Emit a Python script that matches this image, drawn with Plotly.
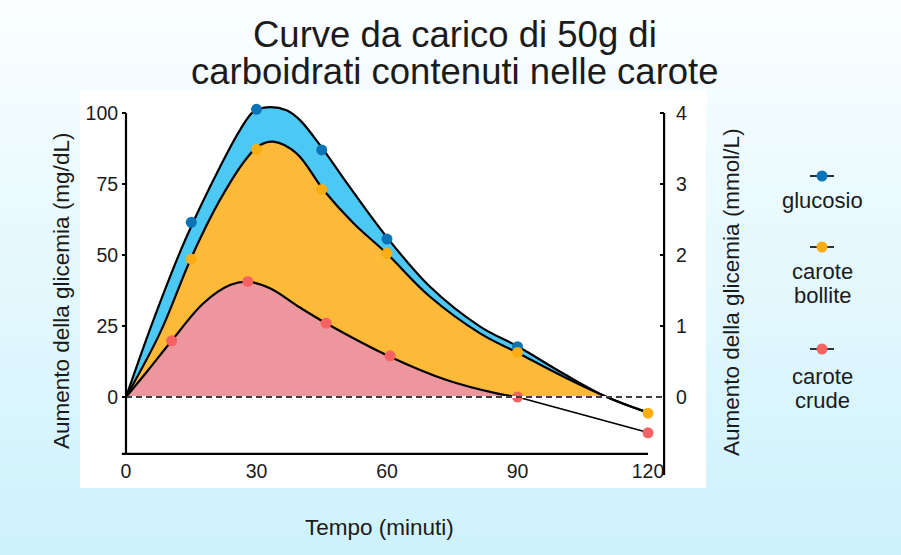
import plotly.graph_objects as go

W, H = 901, 555

# ---------------- data ----------------
title_lines = ["Curve da carico di 50g di", "carboidrati contenuti nelle carote"]
x_title = "Tempo (minuti)"
y_title_left = "Aumento della glicemia (mg/dL)"
y_title_right = "Aumento della glicemia (mmol/L)"

x_tick_vals = [0, 30, 60, 90, 120]
mg_tick_vals = [0, 25, 50, 75, 100]
mmol_tick_vals = [0, 1, 2, 3, 4]

# measured points
glu_t = [15, 30, 45, 60, 90]
glu_v = [61.5, 101.3, 87, 55.6, 17.7]
boil_t = [15, 30, 45, 60, 90, 120]
boil_v = [48.6, 87.2, 73.1, 50.6, 15.7, -5.7]
raw_t = [10.5, 28, 46, 60.7, 90, 120]
raw_v = [19.8, 40.7, 26, 14.5, 0, -12.6]

# fitted curves
glu_curve_t = [0, 6.3, 13.6, 21.6, 26.2, 29.3, 32.3, 36.9, 40, 45.4, 50.7, 59.9, 69.9, 81.4, 90.2, 100.5, 110.5, 120]
glu_curve_v = [0, 27.1, 55.3, 81, 94, 100.5, 102, 101, 97.5, 87, 75.5, 56.4, 38.8, 24.8, 17.7, 8.3, 0, -5.5]
boil_curve_t = [0, 7.8, 15.1, 21.6, 27.7, 30.8, 33.9, 39.2, 45.4, 52.3, 59.9, 69.9, 81.4, 90.2, 100.5, 110.5, 120]
boil_curve_v = [0, 22.5, 49.4, 69.4, 84, 88.7, 89.9, 85.8, 72.9, 61.2, 50.6, 35.3, 22.4, 15.4, 7.2, 0, -5.5]
raw_curve_t = [0, 4.8, 10.5, 17.8, 23.9, 28.1, 33.1, 40, 46.1, 60.7, 73.7, 85.2, 90, 120]
raw_curve_v = [0, 8.9, 19.8, 33, 39.4, 40.6, 38.3, 31.5, 25.9, 14.2, 6, 1.3, 0, -12.5]

legend_names = [["glucosio"], ["carote", "bollite"], ["carote", "crude"]]

# ---------------- styles ----------------
FONT = "Liberation Sans, Arial, Helvetica, sans-serif"
TXT = "#1b1b1b"
blue_fill, orange_fill, pink_fill = "#4cc8f4", "#fdb938", "#ee969d"
blue_mk, orange_mk, red_mk = "#0b74b7", "#fbad12", "#f66262"

X_RANGE = [-1, 123.7]
Y_RANGE = [-27.5, 105]
MMOL_PER_MG = 1 / 25.0
x_dom = [121.65 / W, 664.1 / W]
y_dom = [1 - 475.1 / H, 1 - 98.8 / H]

fig = go.Figure()


def positive_part(ts, vs):
    out_t, out_v = [], []
    for t, v in zip(ts, vs):
        if v >= 0:
            out_t.append(t)
            out_v.append(v)
        else:
            break
    return out_t, out_v


def upto(ts, vs, tmax):
    return [t for t in ts if t <= tmax], [v for t, v in zip(ts, vs) if t <= tmax]


# fills
for ts, vs, col in [(glu_curve_t, glu_curve_v, blue_fill),
                    (boil_curve_t, boil_curve_v, orange_fill),
                    (raw_curve_t, raw_curve_v, pink_fill)]:
    pt, pv = positive_part(ts, vs)
    fig.add_trace(go.Scatter(x=pt, y=pv, mode="lines", line=dict(width=0, shape="spline", color=col),
                             fill="tozeroy", fillcolor=col, hoverinfo="skip", showlegend=False))

# curve lines
for ts, vs in [(glu_curve_t, glu_curve_v), (boil_curve_t, boil_curve_v)]:
    fig.add_trace(go.Scatter(x=ts, y=vs, mode="lines", line=dict(color="black", width=2.2, shape="spline"),
                             hoverinfo="skip", showlegend=False))
rt, rv = upto(raw_curve_t, raw_curve_v, 90)
fig.add_trace(go.Scatter(x=rt, y=rv, mode="lines", line=dict(color="black", width=2.2, shape="spline"),
                         hoverinfo="skip", showlegend=False))
fig.add_trace(go.Scatter(x=raw_curve_t[-2:], y=raw_curve_v[-2:], mode="lines",
                         line=dict(color="black", width=1.8), hoverinfo="skip", showlegend=False))

# markers
for ts, vs, col, nm in [(glu_t, glu_v, blue_mk, "glucosio"),
                        (boil_t, boil_v, orange_mk, "carote bollite"),
                        (raw_t, raw_v, red_mk, "carote crude")]:
    fig.add_trace(go.Scatter(x=ts, y=vs, mode="markers", name=nm,
                             marker=dict(color=col, size=11, line=dict(width=0)), showlegend=False))

# invisible trace for the right axis
fig.add_trace(go.Scatter(x=[0], y=[0], yaxis="y2", mode="markers", marker=dict(opacity=0),
                         hoverinfo="skip", showlegend=False))

shapes = []
# gradient background
N = 60
top = (251, 254, 255)
bot = (205, 242, 252)
for i in range(N):
    f = (i + 0.5) / N
    c = tuple(int(round(top[k] + (bot[k] - top[k]) * f)) for k in range(3))
    shapes.append(dict(type="rect", xref="paper", yref="paper", x0=0, x1=1,
                       y0=1 - (i + 1) / N - 0.002, y1=1 - i / N,
                       fillcolor="rgb(%d,%d,%d)" % c, line=dict(width=0), layer="below"))
# white panel
shapes.append(dict(type="rect", xref="paper", yref="paper", x0=80 / W, x1=706 / W,
                   y0=1 - 488 / H, y1=1 - 90 / H, fillcolor="white", line=dict(width=0), layer="below"))
# zero reference line (white under black dashes)
shapes.append(dict(type="line", xref="x", yref="y", x0=0, x1=X_RANGE[1], y0=0, y1=0,
                   line=dict(color="white", width=2), layer="above"))
shapes.append(dict(type="line", xref="x", yref="y", x0=0, x1=X_RANGE[1], y0=0, y1=0,
                   line=dict(color="black", width=1.6, dash="6px,4px"), layer="above"))
# axis lines
shapes.append(dict(type="line", xref="x", yref="y", x0=0, x1=0, y0=-20, y1=100,
                   line=dict(color="black", width=2.2), layer="above"))
shapes.append(dict(type="line", xref="x", yref="y", x0=X_RANGE[0], x1=120, y0=-20, y1=-20,
                   line=dict(color="black", width=2.2), layer="above"))
shapes.append(dict(type="line", xref="x domain", yref="y", x0=1, x1=1, y0=Y_RANGE[0], y1=100,
                   line=dict(color="black", width=2.2), layer="above"))

# legend
annotations = []
leg_cols = [blue_mk, orange_mk, red_mk]
leg_sym_y = [176, 247, 349]
leg_txt_y = [[200.5], [271, 295.5], [376.5, 401]]
lx = 822
for col, sy, names, tys in zip(leg_cols, leg_sym_y, legend_names, leg_txt_y):
    shapes.append(dict(type="line", xref="paper", yref="paper", x0=(lx - 12) / W, x1=(lx + 12) / W,
                       y0=1 - sy / H, y1=1 - sy / H, line=dict(color="black", width=1.6)))
    r = 5.5
    shapes.append(dict(type="circle", xref="paper", yref="paper", x0=(lx - r) / W, x1=(lx + r) / W,
                       y0=1 - (sy + r) / H, y1=1 - (sy - r) / H, fillcolor=col, line=dict(width=0)))
    for nm, ty in zip(names, tys):
        annotations.append(dict(text=nm, xref="paper", yref="paper", x=lx / W, y=1 - ty / H,
                                xanchor="center", yanchor="middle", showarrow=False,
                                font=dict(size=22, color=TXT, family=FONT)))

# titles
for line, cy in zip(title_lines, [34, 71]):
    annotations.append(dict(text=line, xref="paper", yref="paper", x=455 / W, y=1 - cy / H,
                            xanchor="center", yanchor="middle", showarrow=False,
                            font=dict(size=36.5, color=TXT, family=FONT)))
annotations.append(dict(text=x_title, xref="paper", yref="paper", x=379 / W, y=1 - 527 / H,
                        xanchor="center", yanchor="middle", showarrow=False,
                        font=dict(size=22.5, color=TXT, family=FONT)))
annotations.append(dict(text=y_title_left, xref="paper", yref="paper", x=61 / W, y=1 - 291 / H,
                        xanchor="center", yanchor="middle", showarrow=False, textangle=-90,
                        font=dict(size=22.5, color=TXT, family=FONT)))
annotations.append(dict(text=y_title_right, xref="paper", yref="paper", x=731 / W, y=1 - 292 / H,
                        xanchor="center", yanchor="middle", showarrow=False, textangle=-90,
                        font=dict(size=22.5, color=TXT, family=FONT)))

fig.update_layout(
    width=W, height=H,
    margin=dict(l=0, r=0, t=0, b=0),
    paper_bgcolor="white",
    plot_bgcolor="rgba(0,0,0,0)",
    showlegend=False,
    shapes=shapes,
    annotations=annotations,
    font=dict(family=FONT, color=TXT, size=19),
    xaxis=dict(domain=x_dom, range=X_RANGE, anchor="free", position=1 - 453 / H,
               tickvals=x_tick_vals, ticks="outside", ticklen=1, tickcolor="rgba(0,0,0,0)",
               showgrid=False, zeroline=False, showline=False,
               tickfont=dict(size=19.5, color=TXT, family=FONT)),
    yaxis=dict(domain=y_dom, range=Y_RANGE, anchor="free", position=126 / W,
               tickvals=mg_tick_vals, ticks="outside", ticklen=4, tickwidth=2, tickcolor="black",
               showgrid=False, zeroline=False, showline=False,
               tickfont=dict(size=19.5, color=TXT, family=FONT)),
    yaxis2=dict(overlaying="y", side="right", anchor="x",
                range=[Y_RANGE[0] * MMOL_PER_MG, Y_RANGE[1] * MMOL_PER_MG],
                tickvals=mmol_tick_vals, ticks="inside", ticklen=4, tickwidth=2, tickcolor="black",
                ticklabelstandoff=11,
                showgrid=False, zeroline=False, showline=False,
                tickfont=dict(size=19.5, color=TXT, family=FONT)),
)

fig.write_html("out.html", config={"displayModeBar": False},
               post_script="document.body.style.margin='0';")
